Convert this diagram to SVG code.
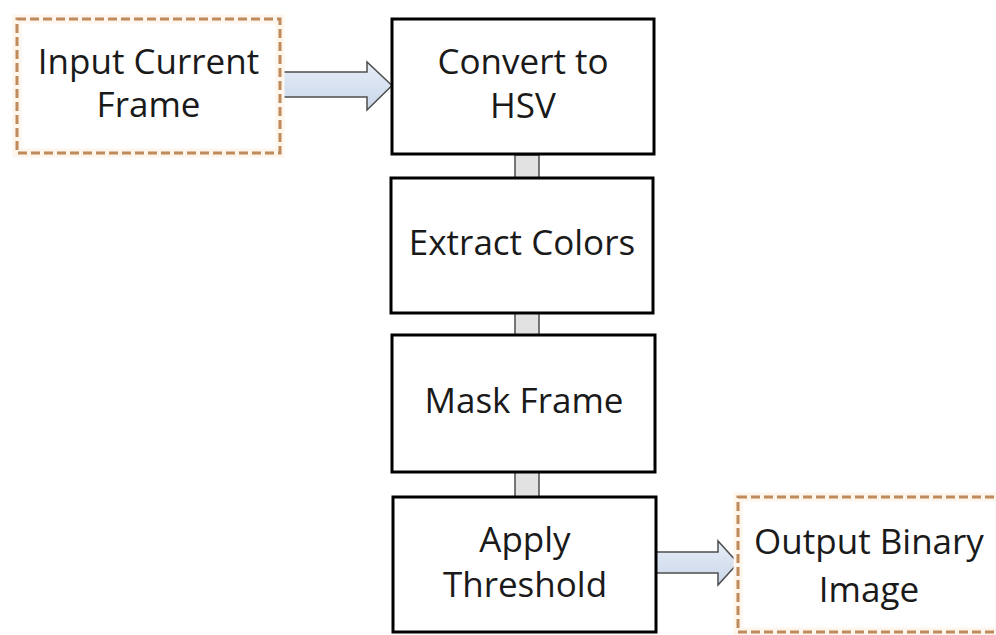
<svg xmlns="http://www.w3.org/2000/svg" width="996" height="635" viewBox="0 0 996 635">
  <defs>
    <linearGradient id="arrowFill" x1="0" y1="0" x2="0" y2="1">
      <stop offset="0" stop-color="#e6edf6"/>
      <stop offset="1" stop-color="#c9d7ea"/>
    </linearGradient>
    <style>
      .step { fill: #ffffff; stroke: #000000; stroke-width: 3; }
      .io-halo { fill: #ffffff; stroke: #fef5ec; stroke-width: 9; }
      .io { fill: none; stroke: #bf8a5c; stroke-width: 3; stroke-dasharray: 9 4; }
      .label { font-family: "Open Sans", "Liberation Sans", sans-serif; font-size: 35px; fill: #1a1a1a; text-anchor: middle; }
      .link { fill: #e2e2e2; stroke: #4d4d4d; stroke-width: 1.5; }
      .flow { fill: url(#arrowFill); stroke: #4d4d4d; stroke-width: 1.5; stroke-linejoin: miter; }
    </style>
  </defs>

  <rect width="996" height="635" fill="#ffffff"/>

  <!-- connectors -->
  <g id="connectors">
    <path class="flow" d="M280,72 H367 V62 L392,85.5 L367,110 V97 H280 Z"/>
    <rect class="link" x="515" y="155" width="24" height="23"/>
    <rect class="link" x="515" y="313" width="24" height="22"/>
    <rect class="link" x="515" y="472" width="24" height="25"/>
    <path class="flow" d="M656,552 H718 V541 L738,563 L718,585 V573 H656 Z"/>
  </g>

  <g id="input">
    <rect class="io-halo" x="17" y="19" width="263" height="134"/>
    <rect class="io" x="17" y="19" width="263" height="134"/>
    <text class="label" x="148.5" y="74">Input Current</text>
    <text class="label" x="148.5" y="117">Frame</text>
  </g>

  <g id="convert">
    <rect class="step" x="392" y="19" width="262" height="135"/>
    <text class="label" x="523" y="74">Convert to</text>
    <text class="label" x="523" y="118">HSV</text>
  </g>

  <g id="extract">
    <rect class="step" x="391" y="178" width="262" height="135"/>
    <text class="label" x="522" y="255">Extract Colors</text>
  </g>

  <g id="mask">
    <rect class="step" x="392" y="335" width="263" height="137"/>
    <text class="label" x="524" y="413">Mask Frame</text>
  </g>

  <g id="threshold">
    <rect class="step" x="393" y="497" width="263" height="135"/>
    <text class="label" x="525" y="552">Apply</text>
    <text class="label" x="525" y="597">Threshold</text>
  </g>

  <g id="output">
    <rect class="io-halo" x="738" y="497" width="262" height="135"/>
    <rect class="io" x="738" y="497" width="262" height="135"/>
    <text class="label" x="869" y="554">Output Binary</text>
    <text class="label" x="869" y="602">Image</text>
  </g>
</svg>
